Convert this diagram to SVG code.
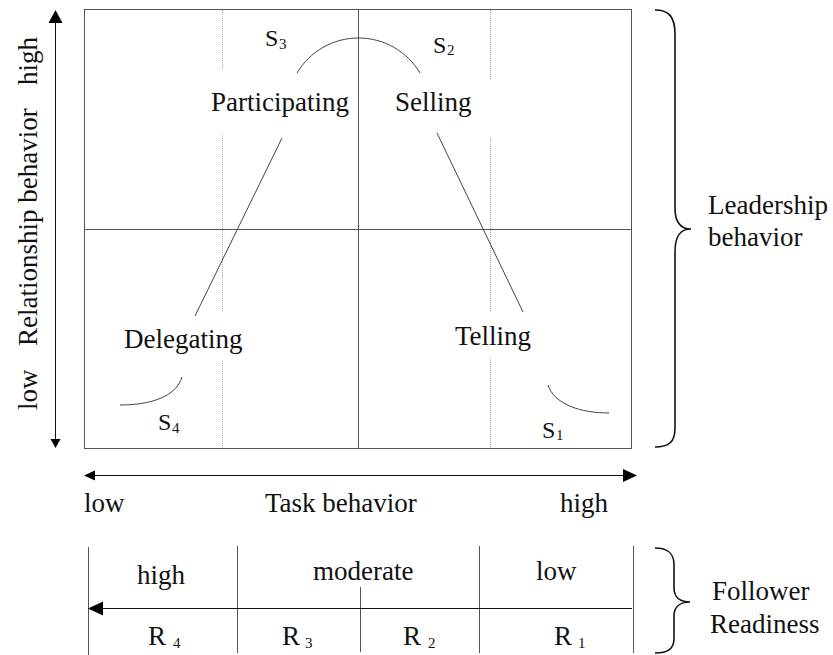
<svg xmlns="http://www.w3.org/2000/svg" width="833" height="655" viewBox="0 0 833 655">
  <style>
    text { font-family: "Liberation Serif", "Times New Roman", serif; fill: #111; }
    .lbl { font-size: 27px; }
    .s { font-size: 24px; }
    .sub { font-size: 15px; }
    .grid { stroke: #555; stroke-width: 1; fill: none; }
    .dot { stroke: #aaa; stroke-width: 1; stroke-dasharray: 1 1; fill: none; }
    .curve { stroke: #444; stroke-width: 1; fill: none; }
    .axis { stroke: #111; stroke-width: 1; fill: none; }
    .brace { stroke: #111; stroke-width: 1.6; fill: none; }
    .head { fill: #000; }
  </style>

  <!-- Quadrant grid -->
  <g id="grid">
    <rect class="grid" x="84.5" y="9.5" width="547" height="439"/>
    <line class="grid" x1="358.5" y1="9.5" x2="358.5" y2="448.5"/>
    <line class="grid" x1="84.5" y1="229.5" x2="631.5" y2="229.5"/>
    <path class="dot" d="M222.5,10 V70 M222.5,134 V311 M222.5,361 V448"/>
    <path class="dot" d="M490.5,10 V79 M490.5,138 V312 M490.5,358 V448"/>
  </g>

  <!-- Style labels -->
  <g id="participating">
    <text class="s" x="265" y="46">S<tspan class="sub" x="279" y="49">3</tspan></text>
    <text class="lbl" x="211" y="111">Participating</text>
  </g>
  <g id="selling">
    <text class="s" x="433" y="53">S<tspan class="sub" x="447" y="55">2</tspan></text>
    <text class="lbl" x="395" y="111">Selling</text>
  </g>
  <g id="delegating">
    <text class="lbl" x="124" y="348">Delegating</text>
    <text class="s" x="158" y="430">S<tspan class="sub" x="172" y="433">4</tspan></text>
  </g>
  <g id="telling">
    <text class="lbl" x="455" y="345">Telling</text>
    <text class="s" x="542" y="438">S<tspan class="sub" x="556" y="440">1</tspan></text>
  </g>

  <!-- Leadership style curve -->
  <g id="connectors">
    <path class="curve" d="M297,73 A71.5,71.5 0 0 1 420,73"/>
    <line class="curve" x1="282" y1="138" x2="195" y2="316"/>
    <line class="curve" x1="437" y1="133" x2="523" y2="312"/>
    <path class="curve" d="M120,405 C150,405 176,397 182,377"/>
    <path class="curve" d="M548,385 C554,404 580,413 609,413"/>
  </g>

  <!-- Relationship behavior axis -->
  <g id="y-axis">
    <line class="axis" x1="55.5" y1="22" x2="55.5" y2="440"/>
    <polygon class="head" points="55.5,10 48.5,23 62.5,23"/>
    <polygon class="head" points="55.5,448 50.5,439 60.5,439"/>
    <text class="lbl" transform="translate(37,410) rotate(-90)">low</text>
    <text class="lbl" transform="translate(37,346) rotate(-90)">Relationship behavior</text>
    <text class="lbl" transform="translate(37,85) rotate(-90)">high</text>
  </g>

  <!-- Task behavior axis -->
  <g id="x-axis">
    <line class="axis" x1="94" y1="475.5" x2="624" y2="475.5"/>
    <polygon class="head" points="84,475.5 95,470.5 95,480.5"/>
    <polygon class="head" points="637,475.5 623,469 623,482"/>
    <text class="lbl" x="84" y="512">low</text>
    <text class="lbl" x="265" y="512">Task behavior</text>
    <text class="lbl" x="560" y="512">high</text>
  </g>

  <!-- Leadership behavior brace -->
  <g id="leadership">
    <path class="brace" d="M655,10 C669,10 675,17 675,34 L675,208 C675,222 680,229 691,229 C680,229 675,236 675,252 L675,428 C675,442 669,447 655,447"/>
    <text class="lbl" x="708" y="214">Leadership</text>
    <text class="lbl" x="708" y="246">behavior</text>
  </g>

  <!-- Follower readiness scale -->
  <g id="readiness">
    <line class="grid" x1="88.5" y1="547" x2="88.5" y2="655"/>
    <line class="grid" x1="237.5" y1="546" x2="237.5" y2="653"/>
    <line class="grid" x1="360.5" y1="587" x2="360.5" y2="652"/>
    <line class="grid" x1="479.5" y1="546" x2="479.5" y2="653"/>
    <line class="grid" x1="633.5" y1="546" x2="633.5" y2="653"/>
    <line class="axis" x1="100" y1="608.5" x2="632" y2="608.5"/>
    <polygon class="head" points="88,608.5 103,601.5 103,615.5"/>
    <text class="lbl" x="137" y="584">high</text>
    <text class="lbl" x="313" y="580">moderate</text>
    <text class="lbl" x="536" y="580">low</text>
    <text class="lbl" x="148" y="645">R<tspan class="sub" x="173" y="648">4</tspan></text>
    <text class="lbl" x="282" y="645">R<tspan class="sub" x="305" y="648">3</tspan></text>
    <text class="lbl" x="403" y="645">R<tspan class="sub" x="428" y="648">2</tspan></text>
    <text class="lbl" x="554" y="645">R<tspan class="sub" x="578" y="648">1</tspan></text>
    <path class="brace" d="M655,548 C668,548 674,553 674,565 L674,588 C674,597 680,602 690,602 C680,602 674,607 674,616 L674,638 C674,649 668,653 655,653"/>
    <text class="lbl" x="712" y="600">Follower</text>
    <text class="lbl" x="710" y="633">Readiness</text>
  </g>
</svg>
